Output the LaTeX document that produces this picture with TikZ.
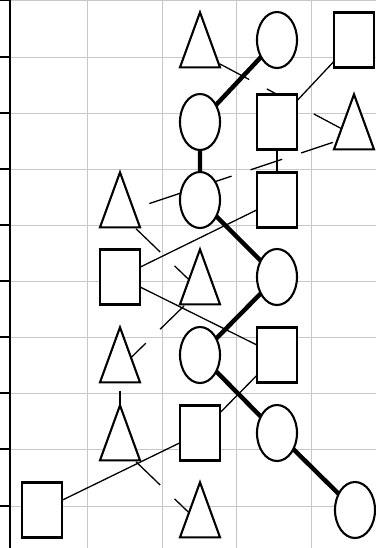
\documentclass[tikz,border=0pt]{standalone}
\usetikzlibrary{shapes.geometric}
\pgfdeclarelayer{background}
\pgfsetlayers{background,main}

\begin{document}
\begin{tikzpicture}[
  x=0.03cm, y=-0.03cm,
  piece/.style={draw=black, fill=white, line width=1.8pt, inner sep=0pt},
  circ/.style={piece, ellipse, minimum width=1.2cm, minimum height=1.68cm},
  sq/.style={piece, rectangle, minimum width=1.2cm, minimum height=1.65cm},
  tri/.style={piece, isosceles triangle, shape border rotate=90,
    isosceles triangle stretches, minimum width=1.2cm, minimum height=1.65cm,
    yshift=-0.4cm},
  gridline/.style={draw=black!22, line width=0.8pt},
  circlink/.style={line width=3.8pt},
  sqlink/.style={line width=1.1pt},
  trilink/.style={line width=1.1pt, dash pattern=on 1cm off 0.6cm, dash phase=0.93cm}
]
\useasboundingbox (0,0) rectangle (376,548);

% Row 1
\node[tri]  (t1) at (200,40) {};
\node[circ] (c1) at (277,40) {};
\node[sq]   (s1) at (354,40) {};

% Row 2
\node[circ] (c2) at (200,122) {};
\node[sq]   (s2) at (277,122) {};
\node[tri]  (t2) at (354,122) {};

% Row 3
\node[tri]  (t3) at (120,200) {};
\node[circ] (c3) at (200,200) {};
\node[sq]   (s3) at (277,200) {};

% Row 4
\node[sq]   (s4) at (120,277) {};
\node[tri]  (t4) at (200,277) {};
\node[circ] (c4) at (277,277) {};

% Row 5
\node[tri]  (t5) at (120,355) {};
\node[circ] (c5) at (200,355) {};
\node[sq]   (s5) at (277,355) {};

% Row 6
\node[tri]  (t6) at (120,433) {};
\node[sq]   (s6) at (200,433) {};
\node[circ] (c6) at (277,433) {};

% Row 7
\node[sq]   (s7) at (42,510) {};
\node[tri]  (t7) at (200,510) {};
\node[circ] (c7) at (355,510) {};

\begin{pgfonlayer}{background}
% Grid and left axis
\foreach \gx in {87,162,236,311}
  \draw[gridline] (\gx,0) -- (\gx,548);
\foreach \gy in {0,57,113,169,225,281,337,393,449,506} {
  \draw[gridline] (10,\gy) -- (376,\gy);
  \draw[line width=1.3pt] (0,\gy) -- (10,\gy);
}
\draw[line width=2.2pt] (10,0) -- (10,548);

% Circle chain
\draw[circlink] (c1.center) -- (c2.center) -- (c3.center) -- (c4.center)
  -- (c5.center) -- (c6.center) -- (c7.center);

% Square chain
\draw[sqlink] (s1.center) -- (s2.center);
\draw[sqlink] (s2.center) -- (s3.center);
\draw[sqlink] (s3.center) -- (s4.center);
\draw[sqlink] (s4.center) -- (s5.center);
\draw[sqlink] (s5.center) -- (s6.center);
\draw[sqlink] (s6.center) -- (s7.center);

% Triangle chain
\draw[trilink] (t1.center) -- (t2.center);
\draw[trilink] (t2.center) -- (t3.center);
\draw[trilink] (t3.center) -- (t4.center);
\draw[trilink] (t4.center) -- (t5.center);
\draw[trilink] (t5.center) -- (t6.center);
\draw[trilink] (t6.center) -- (t7.center);
\end{pgfonlayer}

\end{tikzpicture}
\end{document}
